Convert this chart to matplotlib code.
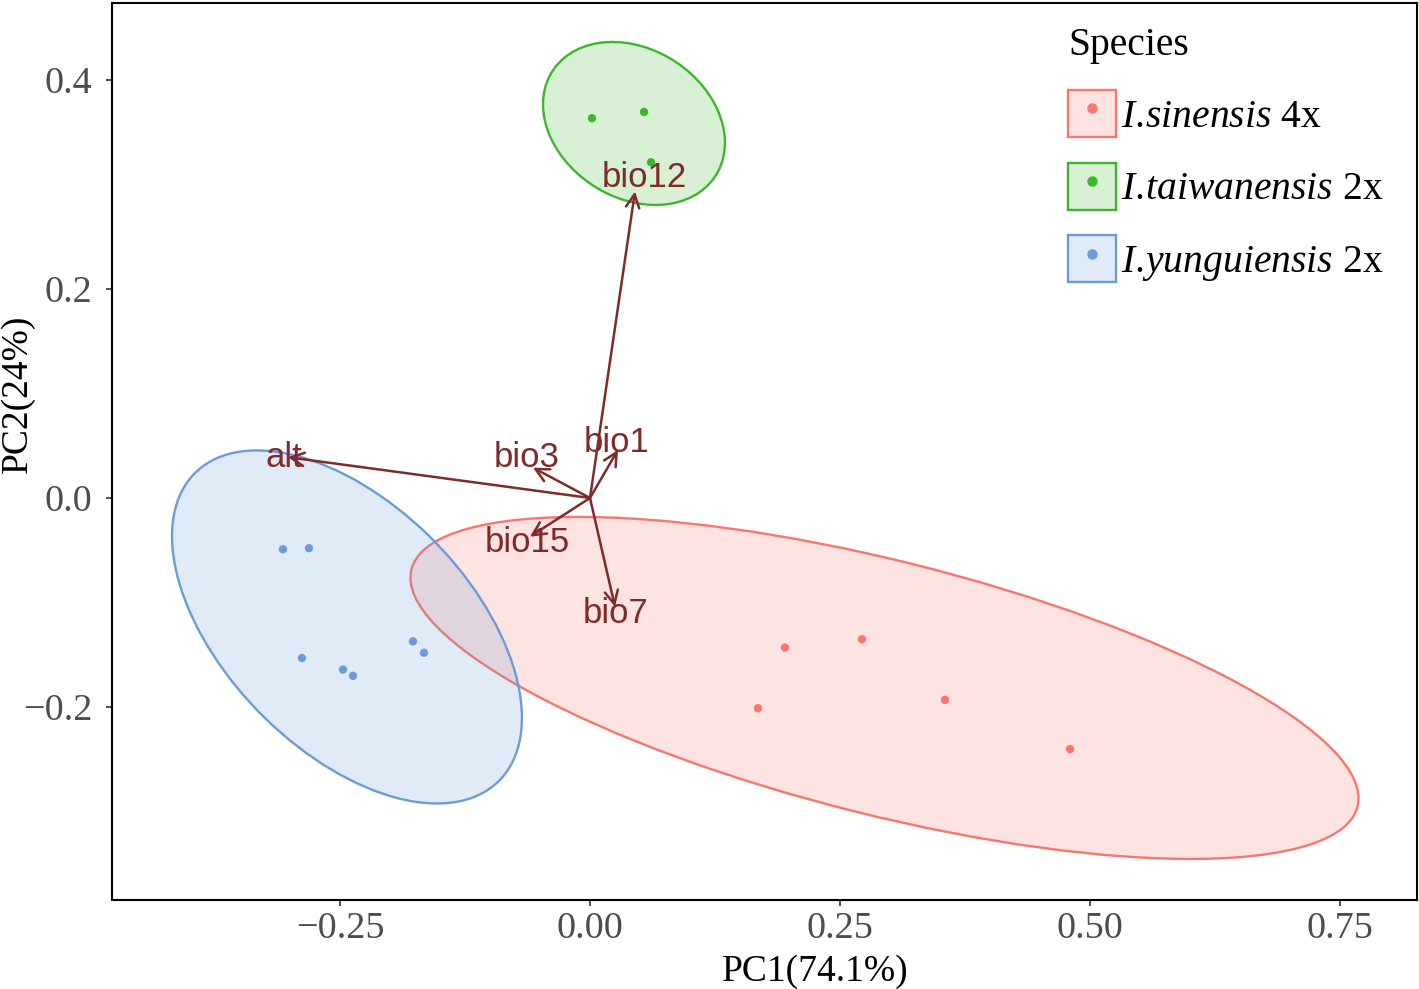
"""PCA biplot of three Isatis species with environmental loadings."""
import matplotlib
matplotlib.use('Agg')
from matplotlib import pyplot as plt
from matplotlib.colors import to_rgba
from matplotlib.lines import Line2D
from matplotlib.patches import Ellipse, Patch

plt.rcParams['font.family'] = ['Liberation Serif', 'DejaVu Serif']
plt.rcParams['mathtext.fontset'] = 'custom'
plt.rcParams['mathtext.rm'] = 'Liberation Serif'
plt.rcParams['mathtext.it'] = 'Liberation Serif:italic'

# Species and colours
species = ['sinensis', 'taiwanensis', 'yunguiensis']
# \! cancels the space mathtext puts after a full stop
legend_labels = [r'$\mathit{I.\!sinensis}$ 4x',
                 r'$\mathit{I.\!taiwanensis}$ 2x',
                 r'$\mathit{I.\!yunguiensis}$ 2x']
colors = ['#F8766D', '#3CB72B', '#6D9BD7']

# Sample scores (PC1, PC2)
pc1_sinensis = [0.195, 0.272, 0.168, 0.355, 0.480]
pc2_sinensis = [-0.143, -0.135, -0.201, -0.193, -0.240]
pc1_taiwanensis = [0.002, 0.054, 0.061]
pc2_taiwanensis = [0.363, 0.369, 0.321]
pc1_yunguiensis = [-0.307, -0.281, -0.288, -0.247, -0.237, -0.177, -0.166]
pc2_yunguiensis = [-0.049, -0.048, -0.153, -0.164, -0.170, -0.137, -0.148]

# Confidence ellipses: centre, semi-axes, angle (deg)
ell_cx = [0.2945, 0.044, -0.243]
ell_cy = [-0.1816, 0.358, -0.1233]
ell_a = [0.4864, 0.0958, 0.2116]
ell_b = [0.1217, 0.0719, 0.1196]
ell_angle = [-13.4, -28.3, -43.0]

# Variable loadings (arrow tips) and label positions
variables = ['alt', 'bio1', 'bio3', 'bio7', 'bio12', 'bio15']
load_pc1 = [-0.302, 0.028, -0.057, 0.025, 0.045, -0.060]
load_pc2 = [0.039, 0.046, 0.029, -0.104, 0.293, -0.037]
label_pc1 = [-0.3065, 0.027, -0.063, 0.026, 0.054, -0.063]
label_pc2 = [0.0296, 0.044, 0.0296, -0.1195, 0.2973, -0.0516]

x_ticks = [-0.25, 0.0, 0.25, 0.50, 0.75]
x_ticklabels = ['\u22120.25', '0.00', '0.25', '0.50', '0.75']
y_ticks = [-0.2, 0.0, 0.2, 0.4]
y_ticklabels = ['\u22120.2', '0.0', '0.2', '0.4']

arrow_color = '#7F2B2B'

fig = plt.figure(figsize=(14.19, 9.89), dpi=100)
ax = fig.add_axes([0.0789, 0.09, 0.9197, 0.907])

scores = [(pc1_sinensis, pc2_sinensis),
          (pc1_taiwanensis, pc2_taiwanensis),
          (pc1_yunguiensis, pc2_yunguiensis)]

for i, col in enumerate(colors):
    ell = Ellipse((ell_cx[i], ell_cy[i]), 2 * ell_a[i], 2 * ell_b[i],
                  angle=ell_angle[i], facecolor=to_rgba(col, 0.2),
                  edgecolor=col, lw=1.7, zorder=1)
    ax.add_patch(ell)

for (xs, ys), col in zip(scores, colors):
    ax.scatter(xs, ys, s=36, color=col, edgecolors='none', zorder=2)

for i, name in enumerate(variables):
    ax.annotate('', xy=(load_pc1[i], load_pc2[i]), xytext=(0, 0),
                arrowprops=dict(arrowstyle='->,head_length=0.6,head_width=0.3',
                                color=arrow_color, lw=1.8, shrinkA=0,
                                shrinkB=0, mutation_scale=16),
                zorder=3)
    ax.text(label_pc1[i], label_pc2[i], name, color=arrow_color,
            family=['Liberation Sans', 'DejaVu Sans'], fontsize=25,
            ha='center', va='baseline', zorder=4)

ax.set_xlim(-0.478, 0.827)
ax.set_ylim(-0.3843, 0.4732)
ax.set_xticks(x_ticks)
ax.set_xticklabels(x_ticklabels)
ax.set_yticks(y_ticks)
ax.set_yticklabels(y_ticklabels)
ax.tick_params(axis='both', labelsize=27.5, labelcolor='#4D4D4D',
               length=4, width=1.2, color='#333333')
ax.tick_params(axis='x', pad=4)
ax.tick_params(axis='y', pad=10)
for sp in ax.spines.values():
    sp.set_linewidth(1.5)
    sp.set_color('black')

ax.set_xlabel('PC1(74.1%)', fontsize=27, va='center')
ax.set_ylabel('PC2(24%)', fontsize=27, va='center')
ax.xaxis.set_label_coords(0.539, -0.08)
ax.yaxis.set_label_coords(-0.072, 0.564)

handles = []
for col in colors:
    box = Patch(facecolor=to_rgba(col, 0.2), edgecolor=col, lw=1.7)
    dot = Line2D([], [], marker='o', ls='', color=col, markersize=6.5)
    handles.append((box, dot))
leg = ax.legend(handles, legend_labels, title='Species', loc='upper left',
                bbox_to_anchor=(0.7326, 0.973), frameon=False, fontsize=28.5,
                title_fontsize=28.5, alignment='left', borderpad=0,
                handlelength=1.21, handleheight=1.45, handletextpad=0.12,
                labelspacing=0.65, borderaxespad=0)

fig.savefig('out.png', dpi=100)
